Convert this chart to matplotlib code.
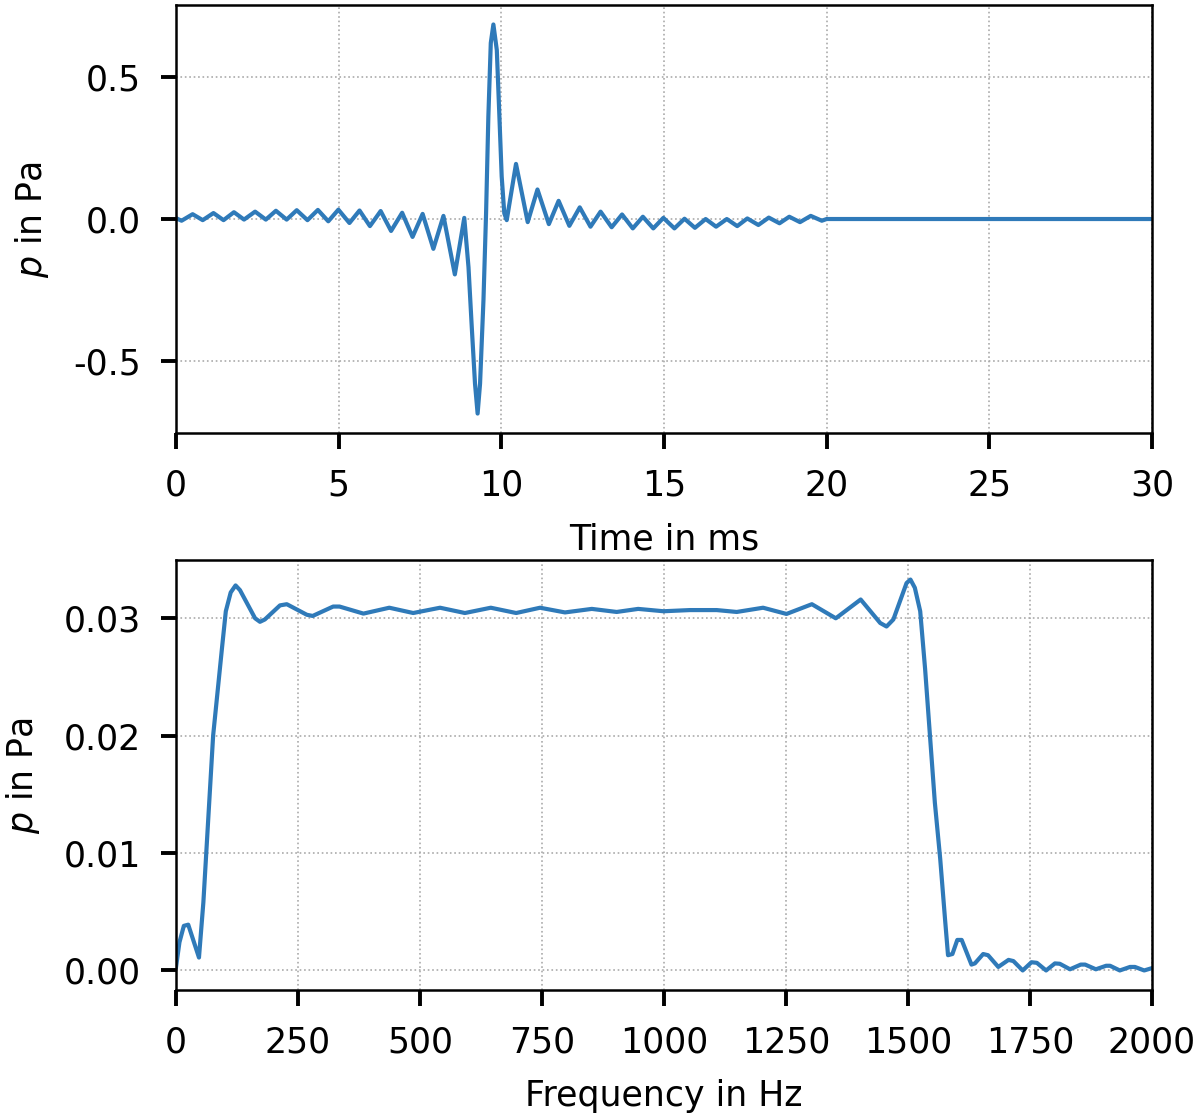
import matplotlib
matplotlib.use("Agg")
import matplotlib.pyplot as plt

# ---- data ----
time_ms = [0.00, 0.17, 0.51, 0.82, 1.15, 1.46, 1.78, 2.09, 2.43, 2.76,
           3.07, 3.40, 3.71, 4.04, 4.36, 4.68, 4.99, 5.33, 5.64, 5.96,
           6.29, 6.61, 6.95, 7.27, 7.58, 7.91, 8.22, 8.57, 8.86,
           8.99, 9.09, 9.19, 9.27, 9.345, 9.45, 9.53, 9.60, 9.675, 9.755,
           9.86, 9.94, 10.01, 10.09, 10.165,
           10.45, 10.81, 11.11, 11.46, 11.76, 12.09, 12.41, 12.74, 13.05,
           13.39, 13.71, 14.04, 14.35, 14.67, 14.98, 15.32, 15.63, 15.95,
           16.28, 16.60, 16.93, 17.25, 17.56, 17.90, 18.22, 18.55, 18.85,
           19.18, 19.51, 19.85, 20.00, 30.00]
pressure_t = [0.003, -0.006, 0.017, -0.004, 0.021, -0.004, 0.024, -0.002, 0.026, -0.002,
              0.029, -0.002, 0.031, -0.004, 0.032, -0.008, 0.033, -0.014, 0.030, -0.025,
              0.028, -0.042, 0.022, -0.063, 0.018, -0.105, 0.011, -0.195, 0.004,
              -0.17, -0.38, -0.58, -0.685, -0.58, -0.285, 0.02, 0.36, 0.62, 0.685,
              0.595, 0.36, 0.15, 0.02, -0.004,
              0.194, -0.011, 0.104, -0.018, 0.064, -0.024, 0.041, -0.027, 0.026,
              -0.029, 0.016, -0.033, 0.008, -0.033, 0.004, -0.033, 0.001, -0.031,
              0.000, -0.027, 0.000, -0.025, 0.002, -0.021, 0.005, -0.015, 0.008,
              -0.011, 0.011, -0.006, 0.000, 0.000]

freq_hz = [0, 7, 16, 25, 47, 56, 76, 94, 102, 112, 122, 131, 162, 172, 182,
           213, 227, 268, 280, 322, 335, 384, 437, 486, 541, 592, 645, 697,
           746, 797, 852, 903, 947, 999, 1053, 1108, 1149, 1203, 1251, 1303,
           1352, 1403, 1443, 1456, 1470, 1497, 1505, 1514, 1525, 1535, 1545,
           1555, 1566, 1576, 1582, 1591, 1601, 1610, 1630, 1637, 1654, 1664,
           1685, 1706, 1716, 1735, 1753, 1764, 1783, 1801, 1811, 1832, 1854,
           1863, 1885, 1906, 1914, 1934, 1955, 1965, 1984, 2000]
pressure_f = [0.0003, 0.0024, 0.0038, 0.0039, 0.0011, 0.0058, 0.0200, 0.0274,
              0.0306, 0.0322, 0.0328, 0.0324, 0.0300, 0.0297, 0.0299, 0.0311,
              0.0312, 0.0303, 0.0302, 0.0310, 0.0310, 0.0304, 0.0309, 0.03045,
              0.0309, 0.03045, 0.0309, 0.03045, 0.0309, 0.0305, 0.0308, 0.03054,
              0.0308, 0.0306, 0.0307, 0.0307, 0.03054, 0.0309, 0.03037, 0.0312,
              0.0300, 0.0316, 0.0296, 0.0293, 0.0299, 0.0330, 0.0333, 0.0326,
              0.0306, 0.0257, 0.0200, 0.0143, 0.0095, 0.0043, 0.0013, 0.0014,
              0.0026, 0.0026, 0.0005, 0.0006, 0.0014, 0.0013, 0.0003, 0.0009,
              0.0008, 0.0000, 0.0007, 0.00065, 0.0000, 0.0006, 0.00057, 0.0001,
              0.0005, 0.0005, 0.0001, 0.0004, 0.0004, 0.0000, 0.0003, 0.0003,
              0.0000, 0.0002]

time_ticks = [0, 5, 10, 15, 20, 25, 30]
time_yticks = [-0.5, 0.0, 0.5]
freq_ticks = [0, 250, 500, 750, 1000, 1250, 1500, 1750, 2000]
freq_yticks = [0.00, 0.01, 0.02, 0.03]

plt.rcParams.update({
    "font.family": ["DejaVu Sans"],
    "font.size": 12.5,
    "axes.unicode_minus": False,
    "axes.linewidth": 0.9,
    "xtick.major.size": 5.8,
    "ytick.major.size": 5.5,
    "xtick.major.width": 1.4,
    "ytick.major.width": 1.4,
    "xtick.major.pad": 7,
    "ytick.major.pad": 7,
    "xtick.labelsize": 12.5,
    "ytick.labelsize": 12.5,
    "axes.labelsize": 12.5,
    "axes.labelpad": 7,
})

fig = plt.figure(figsize=(6.0, 5.58), dpi=200)
ax1 = fig.add_axes([0.1467, 0.612, 0.8133, 0.3835])
ax2 = fig.add_axes([0.1467, 0.1129, 0.8133, 0.3853])

color = "#2f7ab9"

ax1.plot(time_ms, pressure_t, color=color, lw=1.5, solid_joinstyle="round")
ax1.set_xlim(0, 30)
ax1.set_xticks(time_ticks)
ax1.set_yticks(time_yticks)
ax1.set_yticklabels(["-0.5", "0.0", "0.5"])
ax1.set_xlabel("Time in ms")
ax1.set_ylabel(r"$p$ in Pa", labelpad=8)
ax1.grid(True, linestyle=":", color="#aaaaaa", linewidth=0.6)

ax2.plot(freq_hz, pressure_f, color=color, lw=1.5, solid_joinstyle="round")
ax2.set_xlim(0, 2000)
ax2.set_xticks(freq_ticks)
ax2.set_yticks(freq_yticks)
ax2.set_xlabel("Frequency in Hz")
ax2.set_ylabel(r"$p$ in Pa", labelpad=8)
ax2.grid(True, linestyle=":", color="#aaaaaa", linewidth=0.6)

fig.savefig("out.png", dpi=200)
